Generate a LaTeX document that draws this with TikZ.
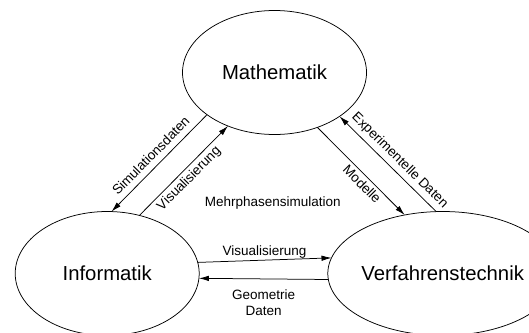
\documentclass[tikz,border=0pt]{standalone}
\usepackage{fontspec}
\setmainfont{Liberation Sans}
\usetikzlibrary{shapes.geometric,arrows.meta}
\tikzset{
  field/.style={ellipse, draw=black, line width=0.75bp, minimum width=184bp, minimum height=124bp,
    inner sep=0pt, outer sep=0pt, font=\fontsize{20.3bp}{24bp}\selectfont},
  flow/.style={draw=black, line width=0.75bp, -{Latex[length=10bp,width=5.5bp]}},
  lab/.style={font=\fontsize{13.5bp}{16bp}\selectfont, inner sep=0pt, align=center}
}
\begin{document}
\begin{tikzpicture}[x=1bp,y=-1bp]
\useasboundingbox (0,0) rectangle (529,332);
\clip (0,0) rectangle (529,332);
\node[field] (m) at (274.5,72.5) {Mathematik};
\node[field] (i) at (107.2,273.5) {Informatik};
\node[field] (v) at (442.7,273.5) {Verfahrenstechnik};
\node[lab] (mp) at (272.8,203) {Mehrphasensimulation};
\draw[flow] (m.-148.2) -- node[lab, sloped, pos=0.505, above=6bp] (l1) {Simulationsdaten} (i.86);
\draw[flow] (i.61.6) -- node[lab, sloped, pos=0.485, below=3bp] (l2) {Visualisierung} (m.-131.4);
\draw[flow] (m.-52.6) -- node[lab, sloped, pos=0.58, below=3bp] (l3) {Modelle} (v.123);
\draw[flow] (v.96.1) -- node[lab, sloped, pos=0.455, above=4bp] (l4) {Experimentelle Daten} (m.-34.1);
\draw[flow] (i.7.3) -- node[lab, above=1.6bp] (l5) {Visualisierung} (v.172.7);
\draw[flow] (v.183.1) -- node[lab, below=10.5bp] (l6) {Geometrie\\Daten} (i.-3.1);
\end{tikzpicture}
\end{document}
